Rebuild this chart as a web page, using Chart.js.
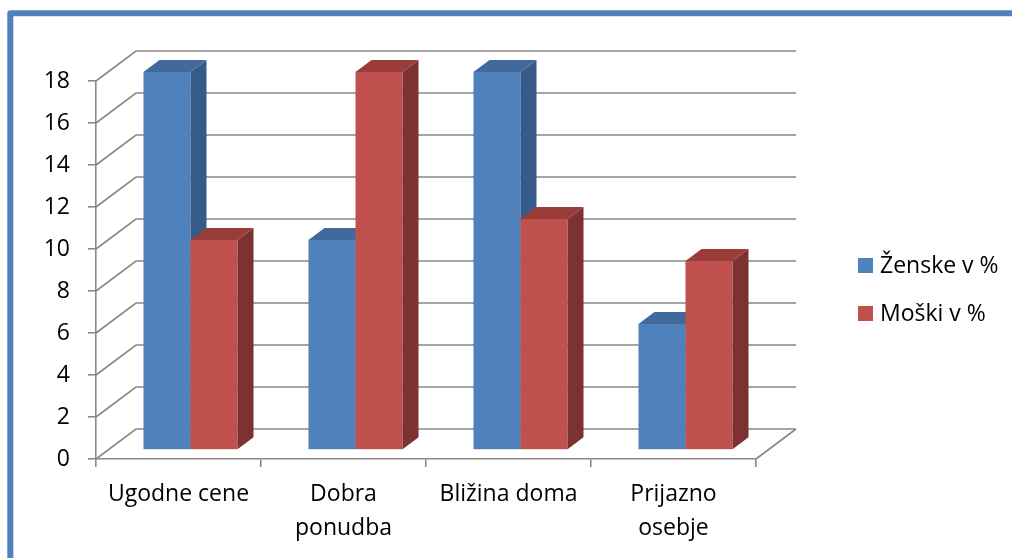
<!DOCTYPE html>
<html>
<head>
<meta charset="utf-8">
<script src="https://cdn.jsdelivr.net/npm/chart.js@4.4.1/dist/chart.umd.min.js"></script>
<style>
  html, body { margin: 0; padding: 0; background: #fff; overflow: hidden; }
  canvas { display: block; }
</style>
</head>
<body>
<canvas id="chart" width="1012" height="558"></canvas>
<script>
// --- data ---
const categories = ['Ugodne cene', ['Dobra', 'ponudba'], 'Bližina doma', ['Prijazno', 'osebje']];
const zenske = [18, 10, 18, 6];
const moski = [10, 18, 11, 9];
const seriesNames = ['Ženske v %', 'Moški v %'];
const yMin = 0;
const yMax = 18;
const yStep = 2;

// --- styling ---
const FONT = "'Open Sans', 'DejaVu Sans', sans-serif";
const FONT_SIZE = 23;
const GRID = '#888888';
const FRONT = ['#4F81BD', '#C0504D'];
const TOP = ['#41699C', '#9A3D3A'];
const SIDE = ['#375B88', '#7B3231'];
// depth of the box (back wall offset) and the slab the bars occupy inside it
const DX = 40, DY = -30;
const BAR_T0 = 0.3, BAR_T1 = 0.7;

const box3d = {
  id: 'box3d',
  beforeDraw(chart) {
    const { ctx, width, height } = chart;
    ctx.save();
    ctx.fillStyle = '#ffffff';
    ctx.fillRect(0, 0, width, height);
    // blue frame along the top and left edges
    ctx.strokeStyle = '#4F81BD';
    ctx.lineWidth = 6;
    ctx.lineJoin = 'round';
    ctx.beginPath();
    ctx.moveTo(10.3, height + 20);
    ctx.lineTo(10.3, 13.3);
    ctx.lineTo(width + 20, 13.3);
    ctx.stroke();
    ctx.restore();
  },
  beforeDatasetsDraw(chart) {
    const { ctx, chartArea: a, scales: { y } } = chart;
    ctx.save();
    ctx.strokeStyle = GRID;
    ctx.lineWidth = 1.6;
    ctx.beginPath();
    y.ticks.forEach(t => {
      const py = y.getPixelForValue(t.value);
      ctx.moveTo(a.left, py);
      ctx.lineTo(a.left + DX, py + DY);
      ctx.lineTo(a.right + DX, py + DY);
    });
    const p0 = y.getPixelForValue(yMin);
    ctx.moveTo(a.right, p0);
    ctx.lineTo(a.right + DX, p0 + DY);
    ctx.stroke();
    ctx.restore();
  },
  beforeDatasetDraw() {
    // flat bars are replaced by the extruded ones below
    return false;
  },
  afterDatasetsDraw(chart) {
    const { ctx } = chart;
    const ox = DX * BAR_T0, oy = DY * BAR_T0;
    const ddx = DX * (BAR_T1 - BAR_T0), ddy = DY * (BAR_T1 - BAR_T0);
    const metas = chart.data.datasets.map((d, i) => chart.getDatasetMeta(i));
    ctx.save();
    categories.forEach((c, j) => {
      metas.forEach((meta, i) => {
        const bar = meta.data[j];
        const p = bar.getProps(['x', 'y', 'base', 'width'], true);
        const x0 = p.x - p.width / 2 + ox, x1 = p.x + p.width / 2 + ox;
        const yt = p.y + oy, yb = p.base + oy;
        // front
        ctx.fillStyle = FRONT[i];
        ctx.fillRect(x0, yt, x1 - x0, yb - yt);
        // side
        ctx.fillStyle = SIDE[i];
        ctx.beginPath();
        ctx.moveTo(x1, yt);
        ctx.lineTo(x1 + ddx, yt + ddy);
        ctx.lineTo(x1 + ddx, yb + ddy);
        ctx.lineTo(x1, yb);
        ctx.closePath();
        ctx.fill();
        // top
        ctx.fillStyle = TOP[i];
        ctx.beginPath();
        ctx.moveTo(x0, yt);
        ctx.lineTo(x1, yt);
        ctx.lineTo(x1 + ddx, yt + ddy);
        ctx.lineTo(x0 + ddx, yt + ddy);
        ctx.closePath();
        ctx.fill();
      });
    });
    ctx.restore();
  },
  afterDraw(chart) {
    // legend on the right
    const { ctx } = chart;
    ctx.save();
    ctx.font = FONT_SIZE + 'px ' + FONT;
    ctx.textBaseline = 'middle';
    chart.data.datasets.forEach((d, i) => {
      const top = 258 + i * 48;
      ctx.fillStyle = FRONT[i];
      ctx.fillRect(858, top, 15, 15);
      ctx.fillStyle = '#000';
      ctx.fillText(d.label, 880, top + 8);
    });
    ctx.restore();
  }
};

new Chart(document.getElementById('chart'), {
  type: 'bar',
  data: {
    labels: categories,
    datasets: [
      { label: seriesNames[0], data: zenske, backgroundColor: FRONT[0] },
      { label: seriesNames[1], data: moski, backgroundColor: FRONT[1] }
    ]
  },
  options: {
    responsive: false,
    animation: false,
    devicePixelRatio: 1,
    layout: { padding: { left: 0, right: 256, top: 81, bottom: 9 } },
    datasets: { bar: { categoryPercentage: 0.57, barPercentage: 1 } },
    plugins: {
      legend: { display: false },
      tooltip: { enabled: false }
    },
    scales: {
      x: {
        grid: { display: true, drawOnChartArea: false, drawTicks: true, tickLength: 8, color: GRID, lineWidth: 1.6 },
        border: { display: true, color: GRID, width: 1.6 },
        ticks: { color: '#000', padding: 11, font: { family: FONT, size: FONT_SIZE, lineHeight: 1.45 }, maxRotation: 0, autoSkip: false },
        afterFit(s) { s.height = 90; }
      },
      y: {
        min: yMin,
        max: yMax,
        grid: { display: true, drawOnChartArea: false, drawTicks: true, tickLength: 8, color: GRID, lineWidth: 1.6 },
        border: { display: true, color: GRID, width: 1.6 },
        ticks: { stepSize: yStep, color: '#000', padding: 18, font: { family: FONT, size: FONT_SIZE } },
        afterFit(s) { s.width = 96; }
      }
    }
  },
  plugins: [box3d]
});
</script>
</body>
</html>
